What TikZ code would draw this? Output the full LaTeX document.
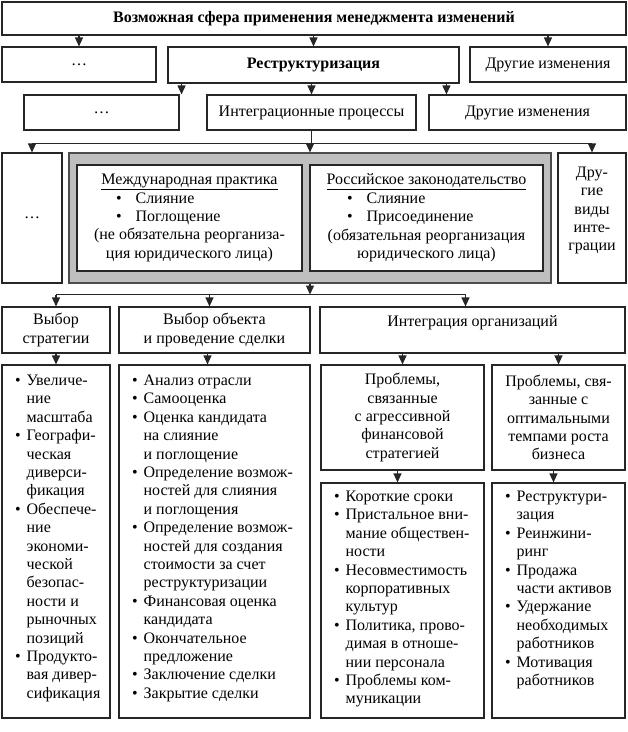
\documentclass[tikz,border=0pt]{standalone}
\usepackage{fontspec}
\setmainfont{Liberation Serif}
\usetikzlibrary{arrows.meta}

\newcommand{\itm}{\llap{\textbullet\hspace{6pt}}}

\begin{document}
\begin{tikzpicture}[
    x=1pt, y=-1pt,
    font=\fontsize{16}{18.4}\selectfont,
    box/.style={rectangle, draw=black!85, line width=1.1pt, fill=white, inner sep=2pt, align=center},
    arrow/.style={-{Triangle[length=9pt,width=8pt]}, line width=1.1pt, black!85},
    link/.style={line width=1.1pt, black!85},
    listtxt/.style={anchor=north west, inner sep=0pt, align=left}
]
    \useasboundingbox (0,0) rectangle (628,732);

    % Top level
    \node[box, minimum width=624pt, minimum height=33pt] (sphere) at (314,18.5) {\textbf{Возможная сфера применения менеджмента изменений}};

    % Second level
    \node[box, minimum width=154pt, minimum height=35pt] (dots1) at (79,64.5) {…};
    \node[box, minimum width=291pt, minimum height=36pt] (restr) at (313.5,65) {\textbf{Реструктуризация}};
    \node[box, minimum width=156pt, minimum height=35pt] (other1) at (548,64.5) {Другие изменения};

    % Third level
    \node[box, minimum width=155pt, minimum height=35pt] (dots2) at (101.5,112.5) {…};
    \node[box, minimum width=209pt, minimum height=35pt] (integ) at (311.5,112.5) {Интеграционные процессы};
    \node[box, minimum width=197pt, minimum height=35pt] (other2) at (527.5,112.5) {Другие изменения};

    % Forms of integration
    \node[box, minimum width=60pt, minimum height=130pt] (dots3) at (32,218) {…};
    \node[box, fill=black!25, draw=black!70, minimum width=482pt, minimum height=130pt] (forms) at (310,218) {};
    \node[box, minimum width=225pt, minimum height=106pt] (intl) at (189.5,218) {\underline{Международная практика}\\
        \makebox[147pt][l]{\textbullet\hspace{14pt}Слияние}\\
        \makebox[147pt][l]{\textbullet\hspace{14pt}Поглощение}\\
        (не обязательна реорганиза-\\ция юридического лица)};
    \node[box, minimum width=233pt, minimum height=106pt] (russ) at (426.5,218) {\underline{Российское законодательство}\\
        \makebox[159pt][l]{\textbullet\hspace{14pt}Слияние}\\
        \makebox[159pt][l]{\textbullet\hspace{14pt}Присоединение}\\
        (обязательная реорганизация\\юридического лица)};
    \node[box, minimum width=68pt, minimum height=130pt] (other3) at (592,218) {Дру-\\гие\\виды\\инте-\\грации\\ \mbox{}};

    % Directions
    \node[box, minimum width=108pt, minimum height=46pt] (strat) at (56,330) {Выбор\\стратегии};
    \node[box, minimum width=191pt, minimum height=46pt] (deal) at (214.5,330) {Выбор объекта\\и проведение сделки};
    \node[box, minimum width=305pt, minimum height=46pt] (orgint) at (472.5,330) {Интеграция организаций\\ \mbox{}};

    % Problems
    \node[box, minimum width=163pt, minimum height=105pt] (aggr) at (402.5,417.5) {Проблемы,\\связанные\\с агрессивной\\финансовой\\стратегией};
    \node[box, minimum width=133pt, minimum height=105pt] (optim) at (558.5,417.5) {Проблемы, свя-\\занные с\\оптимальными\\темпами роста\\бизнеса};

    % Lists
    \node[box, minimum width=108pt, minimum height=353pt] (stratbox) at (56,541.5) {};
    \node[listtxt] (stratlist) at ([shift={(25,8)}]stratbox.north west) {\itm\strut Увеличе-\\ние\\масштаба\\\itm Географи-\\ческая\\диверси-\\фикация\\\itm Обеспече-\\ние\\экономи-\\ческой\\безопас-\\ности и\\рыночных\\позиций\\\itm Продукто-\\вая дивер-\\сификация};
    \node[box, minimum width=191pt, minimum height=353pt] (dealbox) at (214.5,541.5) {};
    \node[listtxt] (deallist) at ([shift={(25,8)}]dealbox.north west) {\itm\strut Анализ отрасли\\\itm Самооценка\\\itm Оценка кандидата\\на слияние\\и поглощение\\\itm Определение возмож-\\ностей для слияния\\и поглощения\\\itm Определение возмож-\\ностей для создания\\стоимости за счет\\реструктуризации\\\itm Финансовая оценка\\кандидата\\\itm Окончательное\\предложение\\\itm Заключение сделки\\\itm Закрытие сделки};
    \node[box, minimum width=163pt, minimum height=235pt] (aggrbox) at (402.5,600.5) {};
    \node[listtxt] (aggrlist) at ([shift={(25,6)}]aggrbox.north west) {\itm\strut Короткие сроки\\\itm Пристальное вни-\\мание обществен-\\ности\\\itm Несовместимость\\корпоративных\\культур\\\itm Политика, прово-\\димая в отноше-\\нии персонала\\\itm Проблемы ком-\\муникации};
    \node[box, minimum width=133pt, minimum height=235pt] (optimbox) at (558.5,600.5) {};
    \node[listtxt] (optimlist) at ([shift={(25,6)}]optimbox.north west) {\itm\strut Реструктури-\\зация\\\itm Реинжини-\\ринг\\\itm Продажа\\части активов\\\itm Удержание\\необходимых\\работников\\\itm Мотивация\\работников};

    % Arrows from the sphere
    \draw[arrow] (sphere.south -| dots1.north) -- (dots1.north);
    \draw[arrow] (sphere.south -| restr.north) -- (restr.north);
    \draw[arrow] (sphere.south -| other1.north) -- (other1.north);

    % Arrows from restructuring
    \coordinate (in1) at ([xshift=2pt]dots2.north east);
    \coordinate (in2) at ([xshift=18pt]other2.north west);
    \draw[arrow] (restr.south -| in1) -- (in1);
    \draw[arrow] (restr.south -| integ.north) -- (integ.north);
    \draw[arrow] (restr.south -| in2) -- (in2);

    % Integration processes
    \coordinate (split1) at ([yshift=-13pt]integ.south);
    \draw[link] (integ.south) -- (split1);
    \draw[link] (split1 -| dots3.north) -- (split1 -| other3.north);
    \draw[arrow] (split1 -| dots3.north) -- (dots3.north);
    \draw[arrow] (split1 -| forms.north) -- (forms.north);
    \draw[arrow] (split1 -| other3.north) -- (other3.north);

    % Directions of work
    \coordinate (split2) at ([yshift=-11pt]forms.south);
    \coordinate (dealin) at ([xshift=-5pt]deal.north);
    \coordinate (orgin) at ([xshift=-7pt]orgint.north);
    \draw[arrow] (forms.south) -- (split2);
    \draw[link] (split2 -| strat.north) -- (split2 -| orgin);
    \draw[arrow] (split2 -| strat.north) -- (strat.north);
    \draw[arrow] (split2 -| dealin) -- (dealin);
    \draw[arrow] (split2 -| orgin) -- (orgin);

    % Down to the lists
    \draw[arrow] (strat.south) -- (stratbox.north);
    \draw[arrow] ([xshift=-7pt]deal.south) -- ([xshift=-7pt]dealbox.north);
    \draw[arrow] (orgint.south -| aggr.north) -- (aggr.north);
    \draw[arrow] (orgint.south -| optim.north) -- (optim.north);
    \draw[arrow] ([xshift=-5pt]aggr.south) -- ([xshift=-5pt]aggrbox.north);
    \draw[arrow] ([xshift=-5pt]optim.south) -- ([xshift=-5pt]optimbox.north);
\end{tikzpicture}
\end{document}
